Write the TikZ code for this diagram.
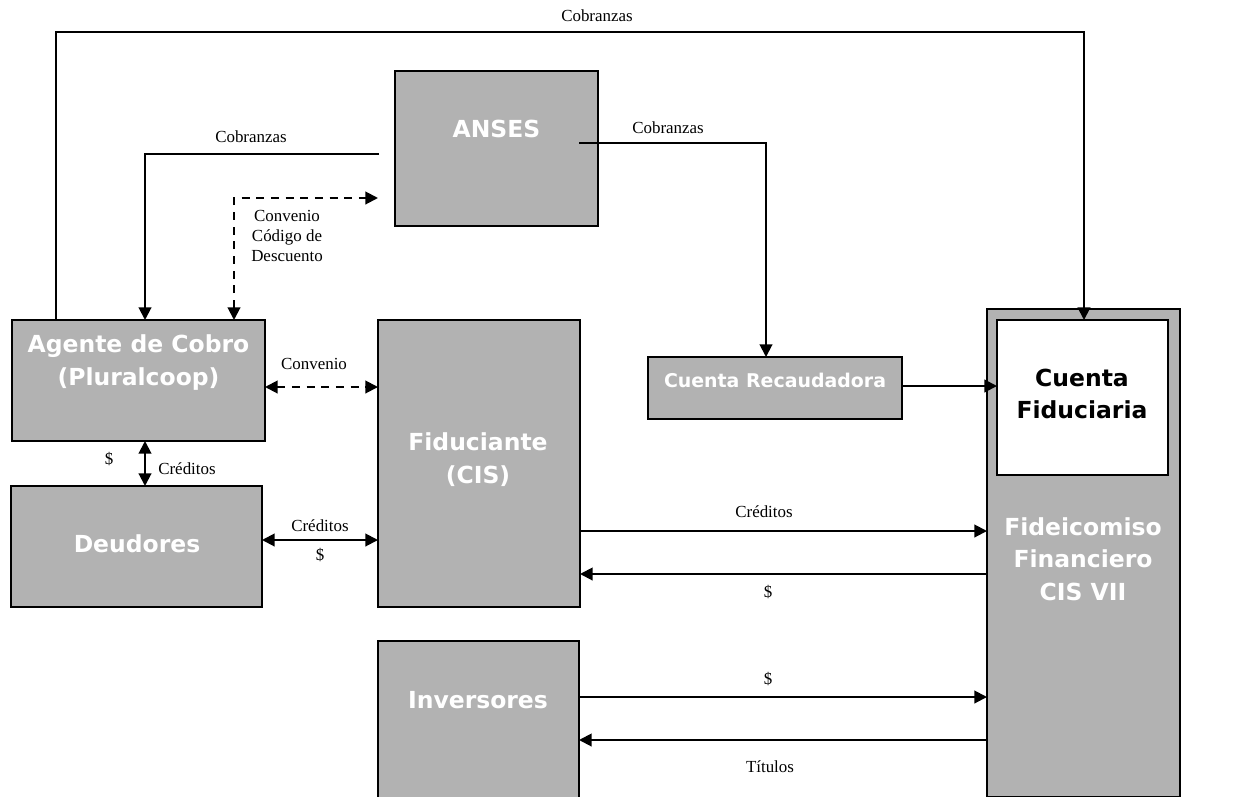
\documentclass[tikz,border=0pt]{standalone}
\usepackage{fontspec}
\setmainfont{Liberation Serif}
\newfontfamily\boxfont{DejaVu Sans}
\usetikzlibrary{arrows.meta,calc}
\definecolor{boxgray}{RGB}{178,178,178}
\begin{document}
\begin{tikzpicture}[x=0.75pt,y=-0.75pt,
  box/.style={draw=black,line width=1.5pt,fill=boxgray,anchor=north west,inner sep=0pt,outer sep=0pt},
  wbox/.style={box,fill=white},
  btext/.style={font=\boxfont\bfseries\fontsize{17.6}{24.5}\selectfont,text=white,align=center,inner sep=0pt},
  lbl/.style={font=\fontsize{12.7}{15}\selectfont,align=center,inner sep=0pt},
  conn/.style={line width=1.5pt},
  arr/.style={conn,-{Triangle[length=9.5pt,width=9.5pt]}},
  darr/.style={conn,{Triangle[length=9.5pt,width=9.5pt]}-{Triangle[length=9.5pt,width=9.5pt]}},
  dsh/.style={dash pattern=on 6pt off 5pt}]
\useasboundingbox (0,0) rectangle (1256,796);
% boxes
\node[box,minimum width=203*0.75pt,minimum height=155*0.75pt] (anses) at (395,71) {};
\node[box,minimum width=253*0.75pt,minimum height=121*0.75pt] (agente) at (12,320) {};
\node[box,minimum width=251*0.75pt,minimum height=121*0.75pt] (deudores) at (11,486) {};
\node[box,minimum width=202*0.75pt,minimum height=287*0.75pt] (fiduciante) at (378,320) {};
\node[box,minimum width=201*0.75pt,minimum height=157*0.75pt] (inversores) at (378,641) {};
\node[box,minimum width=254*0.75pt,minimum height=62*0.75pt] (recaudadora) at (648,357) {};
\node[box,minimum width=193*0.75pt,minimum height=488*0.75pt] (fideicomiso) at (987,309) {};
\node[wbox,minimum width=171*0.75pt,minimum height=155*0.75pt] (fiduciaria) at (997,320) {};
% box texts
\node[btext] (tanses) at (496.5,129) {ANSES};
\node[btext] (tagente) at (138.5,362.5) {Agente de Cobro\\(Pluralcoop)};
\node[btext] (tdeudores) at (137,544) {Deudores};
\node[btext] (tfiduciante) at (478,459.5) {Fiduciante\\(CIS)};
\node[btext] (tinversores) at (478,700) {Inversores};
\node[btext,font=\boxfont\bfseries\fontsize{14.2}{18}\selectfont] (trecaud) at (775,380) {Cuenta Recaudadora};
\node[btext,text=black] (tfiduciaria) at (1082,394) {Cuenta\\Fiduciaria};
\node[btext] (tfideicomiso) at (1083,559) {Fideicomiso\\Financiero\\CIS VII};
% helper coordinates
\coordinate (t1) at (56,32);
\coordinate (t2) at (1084,32);
\coordinate (c1) at (379,154);
\coordinate (c2) at (145,154);
\coordinate (d1) at (234,198);
\coordinate (d2) at (378,198);
\coordinate (a1) at (579,143);
\coordinate (a2) at (766,143);
\coordinate (yconv) at (0,387);
\coordinate (xad) at (145,0);
\coordinate (ydf) at (0,540);
\coordinate (yc1) at (0,531);
\coordinate (yc2) at (0,574);
\coordinate (yc3) at (0,697);
\coordinate (yc4) at (0,740);
% connectors
\draw[arr] (t1 |- agente.north) -- (t1) -- (t2) -- (t2 |- fiduciaria.north);
\draw[arr] (c1) -- (c2) -- (c2 |- agente.north);
\draw[darr,dsh] (d1 |- agente.north) -- (d1) -- (d2);
\draw[arr] (a1) -- (a2) -- (a2 |- recaudadora.north);
\draw[arr] (recaudadora.east |- 0,386) -- (fiduciaria.west |- 0,386);
\draw[darr,dsh] (agente.east |- yconv) -- (fiduciante.west |- yconv);
\draw[darr] (xad |- agente.south) -- (xad |- deudores.north);
\draw[darr] (deudores.east |- ydf) -- (fiduciante.west |- ydf);
\draw[arr] (fiduciante.east |- yc1) -- (fideicomiso.west |- yc1);
\draw[arr] (fideicomiso.west |- yc2) -- (fiduciante.east |- yc2);
\draw[arr] (inversores.east |- yc3) -- (fideicomiso.west |- yc3);
\draw[arr] (fideicomiso.west |- yc4) -- (inversores.east |- yc4);
% labels
\node[lbl] (l1) at (597,16) {Cobranzas};
\node[lbl] (l2) at (251,137) {Cobranzas};
\node[lbl] (l3) at (668,128) {Cobranzas};
\node[lbl] (l4) at (287,236) {Convenio\\Código de\\Descuento};
\node[lbl] (l5) at (314,364) {Convenio};
\node[lbl] (l6) at (109,459) {\$};
\node[lbl] (l7) at (187,469) {Créditos};
\node[lbl] (l8) at (320,526) {Créditos};
\node[lbl] (l9) at (320,555) {\$};
\node[lbl] (l10) at (764,512) {Créditos};
\node[lbl] (l11) at (768,592) {\$};
\node[lbl] (l12) at (768,679) {\$};
\node[lbl] (l13) at (770,767) {Títulos};
\end{tikzpicture}
\end{document}
